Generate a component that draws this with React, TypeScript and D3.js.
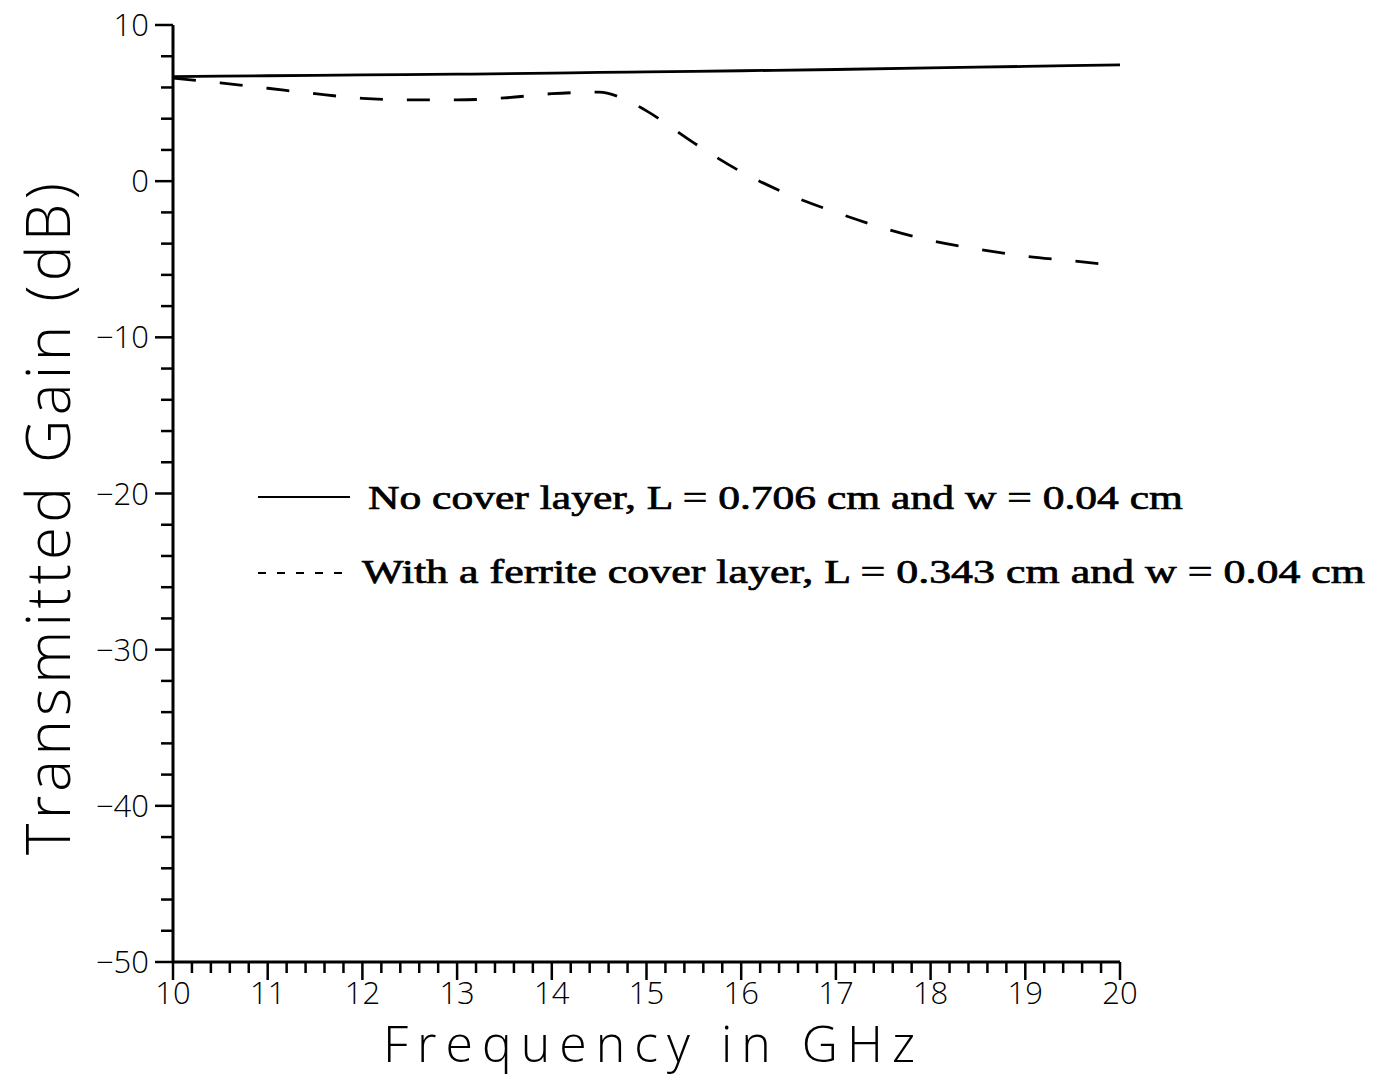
import React from "react";
import * as d3 from "d3";

// Transmitted gain of the antenna versus frequency, with and without a ferrite cover layer
const freqNoCover = [10, 11, 12, 13, 14, 15, 16, 17, 18, 19, 20];
const gainNoCover = [6.7, 6.75, 6.8, 6.85, 6.92, 7.0, 7.07, 7.15, 7.25, 7.35, 7.45];

const freqFerrite = [10, 10.5, 11, 11.5, 12, 12.5, 13, 13.5, 14, 14.5, 14.75, 15, 15.5, 16, 16.5, 17, 17.5, 18, 18.5, 19, 19.5, 19.8];
const gainFerrite = [6.6, 6.3, 5.95, 5.6, 5.3, 5.2, 5.2, 5.33, 5.6, 5.7, 5.3, 4.5, 2.45, 0.6, -0.85, -2.0, -3.0, -3.8, -4.35, -4.8, -5.1, -5.3];

const yTickValues = [10, 0, -10, -20, -30, -40, -50];
const xTickValues = [10, 11, 12, 13, 14, 15, 16, 17, 18, 19, 20];

const legendNoCover = "No cover layer, L = 0.706 cm and w = 0.04 cm";
const legendFerrite = "With a ferrite cover layer, L = 0.343 cm and w = 0.04 cm";

const W = 1383;
const H = 1079;

export default function App() {
  const x = d3.scaleLinear().domain([10, 20]).range([173, 1120]);
  const y = d3.scaleLinear().domain([-50, 10]).range([962, 25]);

  const line = d3
    .line<[number, number]>()
    .x((d) => x(d[0]))
    .y((d) => y(d[1]))
    .curve(d3.curveMonotoneX);

  const solidPts = freqNoCover.map((f, i) => [f, gainNoCover[i]] as [number, number]);
  const dashPts = freqFerrite.map((f, i) => [f, gainFerrite[i]] as [number, number]);

  const yMinor = d3.range(-50, 10.001, 2);
  const xMinor = d3.range(10, 20.001, 0.2);

  const sans = "'Open Sans', 'Liberation Sans', 'DejaVu Sans', sans-serif";
  const serif = "'Liberation Serif', 'DejaVu Serif', serif";

  return (
    <svg
      width={W}
      height={H}
      viewBox={`0 0 ${W} ${H}`}
      style={{ position: "absolute", left: 0, top: 0, background: "#fff" }}
    >
      <rect x={0} y={0} width={W} height={H} fill="#fff" />

      {/* y axis */}
      <line x1={x(10)} y1={y(10)} x2={x(10)} y2={y(-50)} stroke="#000" strokeWidth={3} />
      {yMinor.map((v) => {
        const major = Math.abs(v % 10) < 1e-6;
        return (
          <line
            key={"ym" + v}
            x1={x(10) - (major ? 18 : 12)}
            x2={x(10)}
            y1={y(v)}
            y2={y(v)}
            stroke="#000"
            strokeWidth={2.5}
          />
        );
      })}
      {yTickValues.map((v) => (
        <text
          key={"yl" + v}
          x={x(10) - 24}
          y={y(v) + 11}
          textAnchor="end"
          fontFamily={sans}
          fontWeight={300}
          fontSize={31}
          fill="#000"
        >
          {v < 0 ? "\u2212" + Math.abs(v) : String(v)}
        </text>
      ))}

      {/* x axis */}
      <line x1={x(10)} y1={y(-50)} x2={x(20)} y2={y(-50)} stroke="#000" strokeWidth={3} />
      {xMinor.map((v) => {
        const major = Math.abs(v - Math.round(v)) < 1e-6;
        return (
          <line
            key={"xm" + v.toFixed(1)}
            x1={x(v)}
            x2={x(v)}
            y1={y(-50)}
            y2={y(-50) + (major ? 18 : 11)}
            stroke="#000"
            strokeWidth={2.5}
          />
        );
      })}
      {xTickValues.map((v) => (
        <text
          key={"xl" + v}
          x={x(v)}
          y={y(-50) + 42}
          textAnchor="middle"
          fontFamily={sans}
          fontWeight={300}
          fontSize={31}
          fill="#000"
        >
          {v}
        </text>
      ))}

      {/* axis titles */}
      <text
        x={383}
        y={1062}
        fontFamily={sans}
        fontWeight={300}
        fontSize={50}
        textLength={532}
        lengthAdjust="spacing"
        fill="#000"
      >
        Frequency in GHz
      </text>
      <text
        transform="translate(70,855) rotate(-90)"
        x={0}
        y={0}
        fontFamily={sans}
        fontWeight={300}
        fontSize={60}
        textLength={672}
        lengthAdjust="spacing"
        fill="#000"
      >
        Transmitted Gain (dB)
      </text>

      {/* curves */}
      <path d={line(solidPts) || ""} fill="none" stroke="#000" strokeWidth={2.8} />
      <path
        d={line(dashPts) || ""}
        fill="none"
        stroke="#000"
        strokeWidth={2.8}
        strokeDasharray="23 24"
      />

      {/* legend */}
      <line x1={258} x2={350} y1={497} y2={497} stroke="#000" strokeWidth={2} />
      <text
        x={368}
        y={509}
        fontFamily={serif}
        fontSize={33}
        stroke="#000"
        strokeWidth={0.7}
        textLength={815}
        lengthAdjust="spacingAndGlyphs"
        fill="#000"
      >
        {legendNoCover}
      </text>
      <line
        x1={258}
        x2={346}
        y1={573}
        y2={573}
        stroke="#000"
        strokeWidth={2}
        strokeDasharray="8 11"
      />
      <text
        x={362}
        y={583}
        fontFamily={serif}
        fontSize={33}
        stroke="#000"
        strokeWidth={0.7}
        textLength={1003}
        lengthAdjust="spacingAndGlyphs"
        fill="#000"
      >
        {legendFerrite}
      </text>
    </svg>
  );
}
